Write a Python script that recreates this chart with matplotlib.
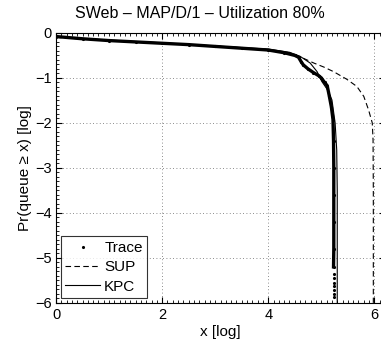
import numpy as np
import matplotlib.pyplot as plt
from matplotlib.ticker import MultipleLocator

plt.rcParams['font.family'] = ['Liberation Sans', 'DejaVu Sans']

# trace (log10 CCDF)
trace_x = [0.0, 0.5, 1.0, 1.5, 2.0, 2.5, 3.0, 3.5, 4.0, 4.3, 4.5, 4.57, 4.62, 4.66,
           4.75, 4.85, 4.95, 5.0, 5.06, 5.11, 5.15, 5.19, 5.22, 5.23, 5.235, 5.235,
           5.235, 5.235, 5.23, 5.23, 5.23, 5.23, 5.23, 5.23, 5.23, 5.23]
trace_y = [-0.08, -0.13, -0.17, -0.2, -0.23, -0.26, -0.3, -0.34, -0.38, -0.44, -0.5,
           -0.54, -0.64, -0.71, -0.8, -0.88, -0.95, -1.0, -1.1, -1.17, -1.4, -1.65,
           -1.93, -2.4, -3.0, -3.6, -4.2, -4.8, -5.2, -5.35, -5.45, -5.55, -5.63,
           -5.72, -5.8, -5.87]
n_solid = 29  # dense part of the trace looks like a thick line

# SUP fit
sup_x = [0.0, 1.0, 2.0, 3.0, 4.0, 4.4, 4.6, 4.86, 5.05, 5.23, 5.48, 5.67, 5.8, 5.89,
         5.96, 5.975, 5.98, 5.98]
sup_y = [-0.1, -0.17, -0.23, -0.29, -0.37, -0.44, -0.53, -0.67, -0.76, -0.86, -1.03,
         -1.19, -1.41, -1.71, -2.0, -2.38, -3.5, -6.0]

# KPC fit
kpc_x = [0.0, 1.0, 2.0, 3.0, 4.0, 4.4, 4.6, 4.79, 4.92, 5.01, 5.12, 5.2, 5.26, 5.29,
         5.3, 5.3]
kpc_y = [-0.09, -0.16, -0.22, -0.29, -0.36, -0.43, -0.52, -0.67, -0.86, -1.08, -1.27,
         -1.49, -2.0, -2.6, -3.5, -6.0]

fig = plt.figure(figsize=(3.81, 3.43), dpi=100)
ax = fig.add_axes([0.147, 0.117, 0.8635, 0.787])

ax.plot(trace_x[:n_solid], trace_y[:n_solid], '-', color='k', lw=2.4)
ax.plot(trace_x, trace_y, '.', color='k', ms=2.5, label='Trace')
ax.plot(sup_x, sup_y, '--', color='k', lw=0.8, dashes=(5, 3), label='SUP')
ax.plot(kpc_x, kpc_y, '-', color='k', lw=0.8, label='KPC')

ax.set_xlim(0, 6.2)
ax.set_ylim(-6, 0)
ax.set_xticks([0, 2, 4, 6])
ax.set_yticks([-6, -5, -4, -3, -2, -1, 0])
ax.set_yticklabels(['\u22126', '\u22125', '\u22124', '\u22123', '\u22122', '\u22121', '0'])
ax.xaxis.set_minor_locator(MultipleLocator(0.1))
ax.yaxis.set_minor_locator(MultipleLocator(0.1))
ax.tick_params(which='both', direction='in', top=True, right=True, labelsize=10.5)
ax.tick_params(axis='x', pad=4)
ax.tick_params(axis='y', pad=3)
ax.tick_params(which='major', length=4)
ax.tick_params(which='minor', length=2)
ax.grid(True, which='major', linestyle=(0, (1, 3)), color='k', lw=0.6, alpha=0.6)

fig.text(200 / 381, 1 - 14 / 343, 'SWeb \u2013 MAP/D/1 \u2013 Utilization 80%',
         fontsize=11.5, ha='center', va='center')
ax.set_xlabel('x [log]', fontsize=11, labelpad=2)
ax.set_ylabel('Pr(queue \u2265 x) [log]', fontsize=11, labelpad=2)

leg = ax.legend(loc='lower left', fontsize=11, frameon=True, fancybox=False,
                edgecolor='k', handlelength=2.3, handletextpad=0.25, borderpad=0.3,
                labelspacing=0.35, borderaxespad=0.3, markerscale=1.0)
leg.get_frame().set_linewidth(0.8)

fig.savefig('out.png', dpi=100)
